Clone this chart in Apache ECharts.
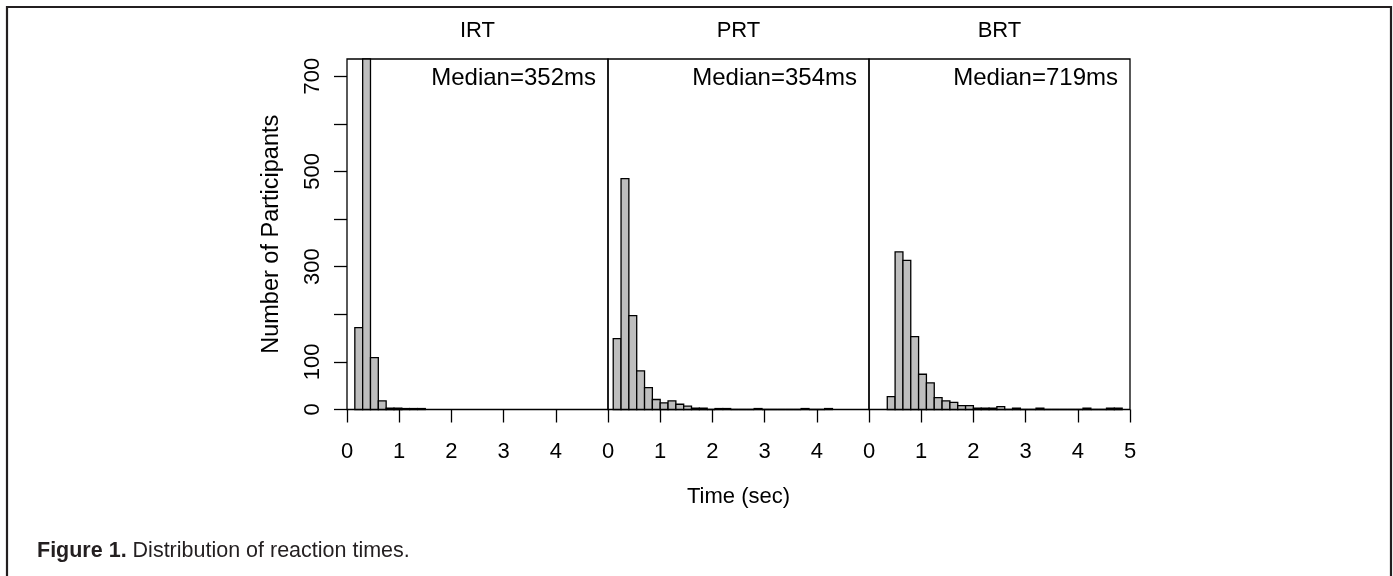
<!DOCTYPE html>
<html>
<head>
<meta charset="utf-8">
<script src="https://cdn.jsdelivr.net/npm/echarts@6/dist/echarts.min.js"></script>
<style>
html,body{margin:0;padding:0;background:#fff;}
#chart{width:1393px;height:576px;}
</style>
</head>
<body>
<div id="chart"></div>
<script>
// ---- data ----
const panelTitles = ['IRT', 'PRT', 'BRT'];
const medianLabels = ['Median=352ms', 'Median=354ms', 'Median=719ms'];
const binWidth = 0.15;
const irtStart = 0.15;
const irtCounts = [172, 780, 109, 18, 3, 3, 2, 2, 2];
const prtStart = 0.10;
const prtCounts = [149, 485, 197, 81, 46, 21, 14, 18, 11, 7, 3, 3, 0, 2, 2, 0, 0, 0, 2, 0, 0, 0, 0, 0, 2, 0, 0, 2];
const brtStart = 0.35;
const brtCounts = [27, 331, 313, 153, 74, 56, 25, 18, 15, 8, 8, 3, 3, 3, 6, 0, 3, 0, 0, 3, 0, 0, 0, 0, 0, 3, 0, 0, 3, 3];
const yTicks = [0, 100, 200, 300, 400, 500, 600, 700];
const yTickLabels = [0, 100, 300, 500, 700];
const xTicksShort = [0, 1, 2, 3, 4];
const xTicksLong = [0, 1, 2, 3, 4, 5];
const yMax = 736;
const xMax = 5;

// ---- build ----
const FONT = 'Liberation Sans, Arial, Helvetica, sans-serif';
const starts = [irtStart, prtStart, brtStart];
const counts = [irtCounts, prtCounts, brtCounts];
const gridLefts = [347, 608, 869];
const gridW = 261, gridTop = 59, gridH = 350.5;

function toBins(start, arr) {
  return arr.map((c, i) => [start + i * binWidth, start + (i + 1) * binWidth, c]);
}

function renderItem(params, api) {
  const x0 = api.value(0), x1 = api.value(1), y = api.value(2);
  const p0 = api.coord([x0, y]);
  const p1 = api.coord([x1, 0]);
  const shape = echarts.graphic.clipRectByRect(
    {x: p0[0], y: p0[1], width: p1[0] - p0[0], height: p1[1] - p0[1]},
    {x: params.coordSys.x, y: params.coordSys.y, width: params.coordSys.width, height: params.coordSys.height}
  );
  if (!shape) return null;
  return {
    type: 'rect',
    shape: shape,
    style: {fill: '#bebebe', stroke: '#000', lineWidth: 1.3}
  };
}

const grids = gridLefts.map(l => ({
  left: l, top: gridTop, width: gridW, height: gridH,
  show: true, borderColor: '#000', borderWidth: 1.3, backgroundColor: 'transparent'
}));

const xAxes = [0, 1, 2].map(i => {
  const ticks = i === 2 ? xTicksLong : xTicksShort;
  return {
    gridIndex: i, type: 'value', min: 0, max: xMax,
    axisLine: {show: false},
    axisTick: {show: true, length: 13, lineStyle: {color: '#000', width: 1.3}, customValues: ticks},
    axisLabel: {fontSize: 22, color: '#000', fontFamily: FONT, margin: 31, customValues: ticks},
    splitLine: {show: false}
  };
});

const yAxes = [0, 1, 2].map(i => {
  const base = {gridIndex: i, type: 'value', min: 0, max: yMax, splitLine: {show: false}};
  if (i !== 0) {
    return Object.assign(base, {show: false});
  }
  return Object.assign(base, {
    axisLine: {show: false},
    axisTick: {show: true, length: 13, lineStyle: {color: '#000', width: 1.3}, customValues: yTicks},
    axisLabel: {rotate: 90, fontSize: 22, color: '#000', fontFamily: FONT, margin: 23, customValues: yTickLabels},
    name: 'Number of Participants', nameLocation: 'middle', nameRotate: 90, nameGap: 63,
    nameTextStyle: {fontSize: 23.5, color: '#000', fontFamily: FONT}
  });
});

const series = [0, 1, 2].map(i => ({
  type: 'custom', xAxisIndex: i, yAxisIndex: i,
  renderItem: renderItem,
  data: toBins(starts[i], counts[i]),
  silent: true, animation: false
}));

const graphics = [
  {type: 'rect', shape: {x: 7, y: 7, width: 1384, height: 620}, style: {fill: 'none', stroke: '#231f20', lineWidth: 2.2}, silent: true}
];
panelTitles.forEach((t, i) => {
  graphics.push({type: 'text', x: gridLefts[i] + gridW / 2, y: 31,
    style: {text: t, font: '22px ' + FONT, fill: '#000', textAlign: 'center', textVerticalAlign: 'middle'}});
  graphics.push({type: 'text', x: gridLefts[i] + gridW - 12, y: 78,
    style: {text: medianLabels[i], font: '24px ' + FONT, fill: '#000', textAlign: 'right', textVerticalAlign: 'middle'}});
});
graphics.push({type: 'text', x: (gridLefts[0] + gridLefts[2] + gridW) / 2, y: 497,
  style: {text: 'Time (sec)', font: '22px ' + FONT, fill: '#000', textAlign: 'center', textVerticalAlign: 'middle'}});
graphics.push({type: 'text', x: 37, y: 551,
  style: {
    text: '{b|Figure 1.} Distribution of reaction times.',
    font: '21.5px ' + FONT, fill: '#231f20', textVerticalAlign: 'middle',
    rich: {b: {fontWeight: 'bold', fontSize: 21.5, fontFamily: FONT, fill: '#231f20'}}
  }});

const chart = echarts.init(document.getElementById('chart'), null, {renderer: 'canvas'});
chart.setOption({
  animation: false,
  backgroundColor: '#fff',
  textStyle: {fontFamily: FONT},
  grid: grids,
  xAxis: xAxes,
  yAxis: yAxes,
  series: series,
  graphic: graphics
});
</script>
</body>
</html>
